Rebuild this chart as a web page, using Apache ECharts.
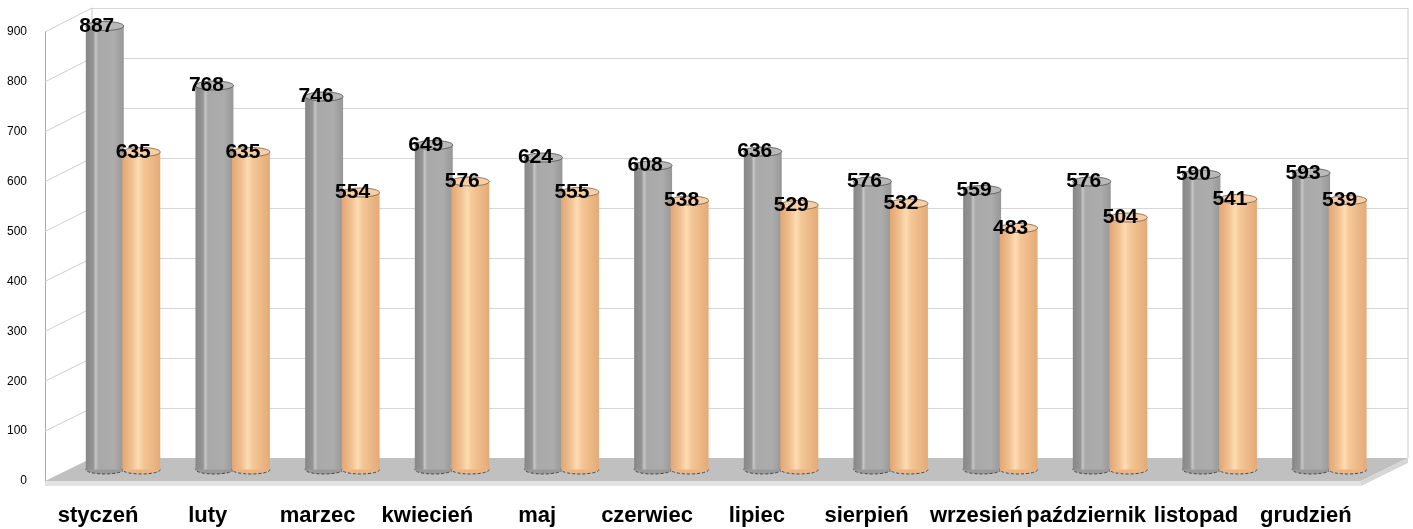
<!DOCTYPE html>
<html><head><meta charset="utf-8">
<script src="https://cdn.jsdelivr.net/npm/echarts@6/dist/echarts.min.js"></script>
<style>html,body{margin:0;padding:0;background:#fff}#c{width:1413px;height:529px}</style>
</head><body><div id="c"></div>
<script>
const categories = ['styczeń','luty','marzec','kwiecień','maj','czerwiec','lipiec','sierpień','wrzesień','październik','listopad','grudzień'];
const seriesGray = [887,768,746,649,624,608,636,576,559,576,590,593];
const seriesOrange = [635,635,554,576,555,538,529,532,483,504,541,539];
const yMin = 0, yMax = 900, yInterval = 100;
const yTickValues = [0,100,200,300,400,500,600,700,800,900];

const FONT = '"Liberation Sans", Arial, sans-serif';
const chart = echarts.init(document.getElementById('c'), null, {renderer:'canvas'});

const grayGrad = new echarts.graphic.LinearGradient(0,0,1,0,[
  {offset:0, color:'#878787'},{offset:0.2, color:'#959595'},{offset:0.26, color:'#c6c6c6'},
  {offset:0.33, color:'#a9a9a9'},{offset:0.75, color:'#acacac'},{offset:1, color:'#979797'}]);
const orangeGrad = new echarts.graphic.LinearGradient(0,0,1,0,[
  {offset:0, color:'#e2a672'},{offset:0.25, color:'#f0c090'},{offset:0.42, color:'#fddcb2'},
  {offset:0.55, color:'#f4c797'},{offset:1, color:'#e4aa76'}]);

function makeCyl(side, grad, topFill, topStroke, baseFill){
  return function(params, api){
    const i = api.value(0), v = api.value(1);
    const p = api.coord([i, v]), b = api.coord([i, 0]);
    const band = api.size([1, 0])[0];
    const w = band*0.346, r = w/2;
    const cx = p[0] + side*band*0.1664;
    const ry = 4.5;
    return {type:'group', children:[
      {type:'ellipse', shape:{cx:cx, cy:b[1], rx:r, ry:ry}, style:{fill:baseFill, stroke:'#4a4a4a', lineWidth:1, lineDash:[3,2]}},
      {type:'rect', shape:{x:cx-r, y:p[1], width:w, height:b[1]-p[1]}, style:{fill:grad}},
      {type:'ellipse', shape:{cx:cx, cy:p[1], rx:r, ry:ry}, style:{fill:topFill, stroke:topStroke, lineWidth:0.8}},
      {type:'text', z2:10, style:{text:String(v), x:cx-8, y:p[1], align:'center', verticalAlign:'middle', font:'bold 21px ' + FONT, fill:'#000'}}
    ]};
  };
}

const option = {
  backgroundColor:'#ffffff',
  animation:false,
  grid:[
    {left:68.2, right:28.8, top:19.5, bottom:59.5},   // bars
    {left:92, right:5, top:8, bottom:71},             // back wall
    {left:45, width:10, top:32, bottom:48},           // front-left axis
    {left:43.1, right:52.3, top:470, bottom:39}       // category labels
  ],
  xAxis:[
    {gridIndex:0, type:'category', data:categories, show:false},
    {gridIndex:1, type:'value', min:0, max:1, show:false},
    {gridIndex:2, type:'value', min:0, max:1, show:false},
    {gridIndex:3, type:'category', data:categories, axisLine:{show:false}, axisTick:{show:false},
      axisLabel:{margin:15, fontSize:22, fontWeight:'bold', color:'#000', fontFamily:FONT, interval:0}}
  ],
  yAxis:[
    {gridIndex:0, type:'value', min:yMin, max:yMax, interval:yInterval, show:false},
    {gridIndex:1, type:'value', min:yMin, max:yMax, interval:yInterval, axisLine:{show:false}, axisTick:{show:false},
      axisLabel:{show:false}, splitLine:{show:true, lineStyle:{color:'#d6d6d6', width:1}}},
    {gridIndex:2, type:'value', min:yMin, max:yMax, interval:yInterval,
      axisLine:{show:true, lineStyle:{color:'#a8a8a8', width:1}}, axisTick:{show:false},
      axisLabel:{margin:18, fontSize:12, color:'#000', fontFamily:FONT}, splitLine:{show:false}},
    {gridIndex:3, type:'value', show:false}
  ],
  series:[
    {type:'custom', name:'A', xAxisIndex:0, yAxisIndex:0, z:5,
      renderItem: makeCyl(-1, grayGrad, '#b9b9b9', '#505050', '#9a9a9a'),
      data: seriesGray.map((v,i)=>[i,v])},
    {type:'custom', name:'B', xAxisIndex:0, yAxisIndex:0, z:6,
      renderItem: makeCyl(1, orangeGrad, '#f6cfa6', '#7a5d48', '#eab483'),
      data: seriesOrange.map((v,i)=>[i,v])}
  ]
};
chart.setOption(option);

// 3D box decoration derived from grid coordinates
const front = v => chart.convertToPixel({gridIndex:2}, [0, v]);
const backL = v => chart.convertToPixel({gridIndex:1}, [0, v]);
const backR = v => chart.convertToPixel({gridIndex:1}, [1, v]);
const f0 = front(0), bl0 = backL(0), br0 = backR(0);
const dx = bl0[0]-f0[0], dy = bl0[1]-f0[1];
const fr0 = [br0[0]-dx, br0[1]-dy];
const g = [];
g.push({type:'polygon', z:1, shape:{points:[f0, fr0, br0, bl0]}, style:{fill:'#c0c0c0'}});
g.push({type:'polygon', z:1, shape:{points:[f0, fr0, [fr0[0], fr0[1]+5], [f0[0], f0[1]+5]]}, style:{fill:'#e3e3e3'}});
g.push({type:'polygon', z:1, shape:{points:[fr0, br0, [br0[0], br0[1]+5], [fr0[0], fr0[1]+5]]}, style:{fill:'#d6d6d6'}});
yTickValues.forEach(v=>{
  if (v===0) return;
  const a = front(v), b = backL(v);
  g.push({type:'line', z:1, shape:{x1:a[0], y1:a[1], x2:b[0], y2:b[1]}, style:{stroke:'#cfcfcf', lineWidth:1}});
});
const blTop = backL(yMax), brTop = backR(yMax);
g.push({type:'line', z:1, shape:{x1:bl0[0], y1:bl0[1], x2:blTop[0], y2:blTop[1]}, style:{stroke:'#c8c8c8', lineWidth:1}});
g.push({type:'line', z:1, shape:{x1:br0[0], y1:br0[1], x2:brTop[0], y2:brTop[1]}, style:{stroke:'#c8c8c8', lineWidth:1}});
chart.setOption({graphic: g});
</script></body></html>
